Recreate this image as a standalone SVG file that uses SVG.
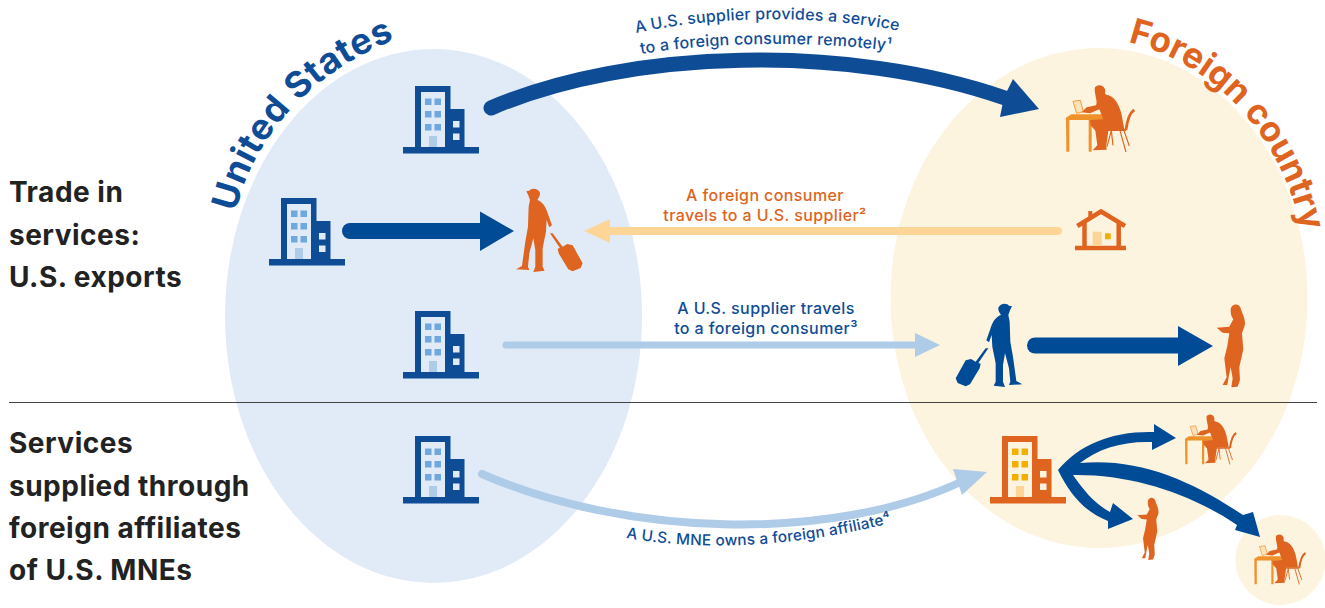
<svg xmlns="http://www.w3.org/2000/svg" xmlns:xlink="http://www.w3.org/1999/xlink" width="1325" height="608" viewBox="0 0 1325 608">
<style>
text{font-family:Inter,"Liberation Sans",sans-serif}
.side{font-size:28px;font-weight:700;fill:#222;letter-spacing:.5px}
.lb{font-size:16px;font-weight:500;fill:#0f4c96;letter-spacing:.2px}
.lo{font-size:16px;font-weight:500;fill:#de6420;letter-spacing:.4px}
.st{letter-spacing:.4px}
.mid{text-anchor:middle}
.fl{fill:none;stroke-linecap:round}
.navy{fill:#004b96}
</style>
<defs>
<g id="bldB">
<rect x="0" y="61" width="76" height="6.500" fill="#0f4c96"/><rect x="12" y="0" width="35.500" height="62" fill="#0f4c96"/><rect x="47" y="23" width="14.500" height="39" fill="#0f4c96"/>
<rect x="18" y="6" width="24" height="55" fill="#e1ebf7"/>
<g fill="#6fa8dc"><rect x="22" y="12.500" width="6.500" height="6.500"/><rect x="31.500" y="12.500" width="6.500" height="6.500"/><rect x="22" y="25" width="6.500" height="6.500"/><rect x="31.500" y="25" width="6.500" height="6.500"/><rect x="22" y="38" width="6.500" height="6.500"/><rect x="31.500" y="38" width="6.500" height="6.500"/></g>
<rect x="26" y="50" width="8" height="11" fill="#aecbe8"/>
<rect x="50" y="35" width="6.500" height="6.500" fill="#e1ebf7"/><rect x="50" y="47.500" width="6.500" height="6.500" fill="#e1ebf7"/>
</g>
<g id="desk">
<path d="M99 94L121 91L130 125L110 130Z" fill="#fde3b8" stroke="#ee9a3c" stroke-width="3"/>
<path d="M78 143L94 133H190L192 150H155V245H146V150H88V245H79Z" fill="#f0922b"/>
<path d="M164 56C164 44 190 40 195 58C197 68 192 72 200 74C222 78 236 100 244 130L253 178L206 178L199 226L200 239L158 241L172 226L166 182L152 166L150 150L190 148L178 118L150 130L125 127L140 112L168 106C174 96 164 76 164 56Z" fill="#de6420"/>
<g fill="none" stroke="#de6420" stroke-width="3.500"><path d="M204 180H258" stroke-width="6"/><path d="M258 180C262 150 268 128 283 120" stroke-width="8"/><path d="M214 182L201 230M214 182L219 226M240 182L258 246M252 182L268 228"/></g>
</g>
<path id="trav" d="M799 64L808 62C812 54 834 52 840 68C841 78 836 84 832 90C848 95 858 112 864 132L876 166L868 172L860 150L858 185L848 235L848 290L854 302L820 306L826 290L826 240L820 205L808 250L804 290L808 300L768 298L786 288L796 215L804 170L806 110L810 90L805 76Z"/>
<path id="case" d="M870 190L878 190L908 230L922 222L938 226L968 280L962 294L938 304L925 298L896 250L893 236L900 234Z"/>
<path id="woman" d="M872 60C872 42 895 36 902 54C906 70 916 85 915 102C914 112 909 118 906 130L910 178L898 232L900 270L893 290L874 292L878 265L872 232L866 262L862 285L848 285L860 262L853 205L862 168L868 130L848 128L830 113L868 110L880 88C874 80 872 72 872 60Z"/>
</defs>

<g id="regions">
<ellipse cx="433.500" cy="316" rx="208.500" ry="267" fill="#e1ebf7"/>
<ellipse cx="1099" cy="298" rx="208.500" ry="250" fill="#fdf4e0"/>
<circle cx="1280.500" cy="560" r="45" fill="#fdf4e0"/>
</g>
<path id="divider" d="M9 402.500H1317" stroke="#444" stroke-width="1"/>

<g id="titles">
<path id="tUS" d="M236 212C252 140 310 70 402 37" fill="none"/>
<path id="tFC" d="M1128 42C1210 62 1280 130 1302 232" fill="none"/>
<text font-size="36" font-weight="700" fill="#0f4c96" letter-spacing=".6"><textPath xlink:href="#tUS" href="#tUS">United States</textPath></text>
<text font-size="35" font-weight="700" fill="#de6420"><textPath xlink:href="#tFC" href="#tFC">Foreign country</textPath></text>
</g>

<g id="side-labels">
<text class="side" x="9" y="202">Trade in</text>
<text class="side" x="9" y="245">services:</text>
<text class="side" x="9" y="287">U.S. exports</text>
<text class="side" x="9" y="453">Services</text>
<text class="side" x="9" y="496">supplied through</text>
<text class="side" x="9" y="538">foreign affiliates</text>
<text class="side" x="9" y="580">of U.S. MNEs</text>
</g>

<g id="connectors">
<path class="fl" d="M491 108C630 48 850 44 1005 98" stroke="#0f4c96" stroke-width="15"/>
<path d="M1013 79L1039 109L1000 117L1004 97Z" fill="#0f4c96"/>
<path class="fl" d="M350 231H482" stroke="#004b96" stroke-width="16"/>
<path class="navy" d="M480 211.500L514 231L480 251Z"/>
<path class="fl" d="M1058 231H610" stroke="#fdd596" stroke-width="8"/>
<path d="M584 231L610 219V243Z" fill="#fdd596"/>
<path class="fl" d="M506 345H920" stroke="#aecbe8" stroke-width="7"/>
<path d="M940 345L915 333V357Z" fill="#aecbe8"/>
<path class="fl" d="M1035 345.500H1180" stroke="#004b96" stroke-width="16"/>
<path class="navy" d="M1178 326L1213 346L1178 366Z"/>
<path class="fl" d="M482 474C620 535 830 545 965 480" stroke="#aecbe8" stroke-width="8"/>
<path d="M953 469L987 472L962 495Z" fill="#aecbe8"/>
<path d="M1058 470C1080 444 1112 431 1154 432L1154 424L1176 438L1152 450L1152 442C1122 441 1098 449 1080 463C1140 458 1190 480 1243 515L1253 512L1260 537L1235 530L1237 525C1190 493 1130 474 1073 475C1085 492 1095 504 1110 512L1113 503L1133 519L1108 529L1108 521C1085 512 1070 495 1058 470Z" fill="#004b96"/>
</g>

<g id="us-supplier-1"><use href="#bldB" x="403" y="86"/></g>
<g id="us-supplier-2"><use href="#bldB" x="269" y="198"/></g>
<g id="us-supplier-3"><use href="#bldB" x="403" y="311"/></g>
<g id="us-mne"><use href="#bldB" x="403" y="436"/></g>
<g id="foreign-affiliate" transform="translate(990 436)">
<rect x="0" y="61" width="76" height="6.500" fill="#de6420"/><rect x="12" y="0" width="35.500" height="62" fill="#de6420"/><rect x="47" y="23" width="14.500" height="39" fill="#de6420"/>
<rect x="18" y="6" width="24" height="55" fill="#fdf4e0"/>
<g fill="#f5ae00"><rect x="22" y="12.500" width="6.500" height="6.500"/><rect x="31.500" y="12.500" width="6.500" height="6.500"/><rect x="22" y="25" width="6.500" height="6.500"/><rect x="31.500" y="25" width="6.500" height="6.500"/><rect x="22" y="38" width="6.500" height="6.500"/><rect x="31.500" y="38" width="6.500" height="6.500"/></g>
<rect x="26" y="50" width="8" height="11" fill="#fdd596"/>
<rect x="50" y="35" width="6.500" height="6.500" fill="#fdf4e0"/><rect x="50" y="47.500" width="6.500" height="6.500" fill="#fdf4e0"/>
</g>
<g id="remote-consumer"><use href="#desk" transform="translate(1040 70) scale(.3333)"/></g>
<g id="consumer-a"><use href="#desk" transform="translate(1165.500 403) scale(.25)"/></g>
<g id="consumer-b"><use href="#desk" transform="translate(1234.800 523) scale(.25)"/></g>
<g id="traveller-consumer" fill="#de6420" transform="translate(260 170) scale(.3333)"><use href="#trav"/><use href="#case"/></g>
<g id="traveller-supplier" fill="#004b96" transform="translate(1278.300 285) scale(-.3333 .3333)"><use href="#trav"/><use href="#case"/></g>
<g id="foreign-customer" fill="#de6420" transform="translate(940 290) scale(.3333)"><use href="#woman"/></g>
<g id="affiliate-customer" fill="#de6420" transform="translate(929.750 487) scale(.25)"><use href="#woman"/></g>
<g id="home" transform="translate(1060 200)">
<rect x="28.300" y="11" width="4" height="8" fill="#de6420"/>
<path d="M17.300 26L41 11.500L65 26M24.500 22V47M58.700 22V47M15 48H66" fill="none" stroke="#de6420" stroke-width="4.500"/>
<rect x="32.700" y="31.700" width="9" height="14.300" fill="#fdd596"/>
<rect x="45" y="33.300" width="5.700" height="6" fill="#f5ae00"/>
</g>

<g id="connector-labels">
<path id="c1" d="M636 33C720 15 820 15 900 31" fill="none"/>
<path id="c2" d="M641 54C720 41 820 41 900 52" fill="none"/>
<path id="c3" d="M626 538Q755 560 910 518" fill="none"/>
<text class="lb"><textPath href="#c1" xlink:href="#c1">A U.S. supplier provides a service</textPath></text>
<text class="lb"><textPath href="#c2" xlink:href="#c2">to a foreign consumer remotely¹</textPath></text>
<text class="lb" style="font-size:15.300px"><textPath href="#c3" xlink:href="#c3">A U.S. MNE owns a foreign affiliate⁴</textPath></text>
<text class="lo mid" x="765" y="201">A foreign consumer</text>
<text class="lo mid" x="765" y="221">travels to a U.S. supplier²</text>
<text class="lb st mid" x="766" y="314">A U.S. supplier travels</text>
<text class="lb st mid" x="766" y="334">to a foreign consumer³</text>
</g>
</svg>
